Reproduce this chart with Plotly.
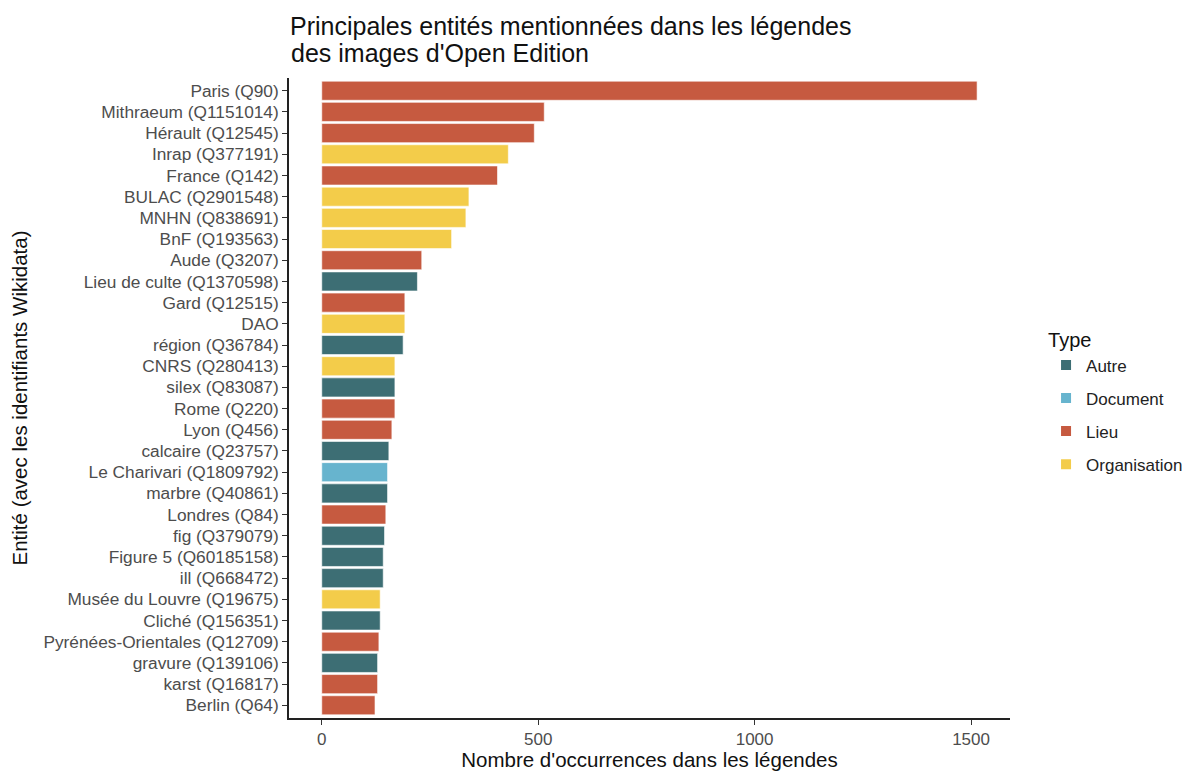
import plotly.graph_objects as go

entities = [
    "Paris (Q90)", "Mithraeum (Q1151014)", "Hérault (Q12545)", "Inrap (Q377191)",
    "France (Q142)", "BULAC (Q2901548)", "MNHN (Q838691)", "BnF (Q193563)",
    "Aude (Q3207)", "Lieu de culte (Q1370598)", "Gard (Q12515)", "DAO",
    "région (Q36784)", "CNRS (Q280413)", "silex (Q83087)", "Rome (Q220)",
    "Lyon (Q456)", "calcaire (Q23757)", "Le Charivari (Q1809792)", "marbre (Q40861)",
    "Londres (Q84)", "fig (Q379079)", "Figure 5 (Q60185158)", "ill (Q668472)",
    "Musée du Louvre (Q19675)", "Cliché (Q156351)", "Pyrénées-Orientales (Q12709)",
    "gravure (Q139106)", "karst (Q16817)", "Berlin (Q64)",
]
counts = [
    1514, 514, 491, 431,
    406, 340, 333, 300,
    231, 221, 192, 192,
    188, 169, 169, 169,
    162, 155, 152, 152,
    148, 145, 142, 142,
    135, 135, 132,
    129, 129, 123,
]
types = [
    "Lieu", "Lieu", "Lieu", "Organisation",
    "Lieu", "Organisation", "Organisation", "Organisation",
    "Lieu", "Autre", "Lieu", "Organisation",
    "Autre", "Organisation", "Autre", "Lieu",
    "Lieu", "Autre", "Document", "Autre",
    "Lieu", "Autre", "Autre", "Autre",
    "Organisation", "Autre", "Lieu",
    "Autre", "Lieu", "Lieu",
]
type_order = ["Autre", "Document", "Lieu", "Organisation"]
type_colors = {"Autre": "#3D6E74", "Document": "#67B4CE", "Lieu": "#C65A40", "Organisation": "#F3CC4A"}
title_lines = ["Principales entités mentionnées dans les légendes", "des images d'Open Edition"]

FONT = "Liberation Sans, Arial, sans-serif"
W, H = 1187, 771
L, R, T, B = 289, 177, 78, 53
PH = H - T - B

fig = go.Figure()
for t in type_order:
    xs = [c for c, ty in zip(counts, types) if ty == t]
    ys = [e for e, ty in zip(entities, types) if ty == t]
    fig.add_trace(go.Bar(
        x=xs, y=ys, orientation="h", name=t, width=0.9, legendgroup=t,
        marker=dict(color=type_colors[t], line=dict(color="white", width=0.6)),
    ))

cat_order = entities[::-1]
fig.update_layout(
    width=W, height=H,
    paper_bgcolor="white", plot_bgcolor="white",
    margin=dict(l=L, r=R, t=T, b=B, autoexpand=False),
    barmode="relative",
    font=dict(family=FONT, color="#222222"),
    title=dict(
        text=title_lines[0],
        x=290 / W, xanchor="left", xref="container",
        y=1 - 26 / H, yanchor="middle", yref="container",
        font=dict(size=25, color="#111111", family=FONT),
        automargin=False,
    ),
    legend=dict(
        title=dict(text="Type", font=dict(size=20, color="#111111")),
        x=1.05, xanchor="left", y=0.494, yanchor="middle",
        font=dict(size=17, color="#222222"),
        traceorder="grouped", itemsizing="constant",
        tracegroupgap=8,
    ),
    bargap=0.1,
)
fig.add_annotation(
    text=title_lines[1], xref="paper", yref="paper",
    x=0, xanchor="left", y=(H - B - 52.5) / PH, yanchor="middle",
    showarrow=False, font=dict(size=25, color="#111111", family=FONT),
)
fig.update_xaxes(
    range=[-75.7, 1590], tickvals=[0, 500, 1000, 1500],
    showgrid=False, zeroline=False, automargin=True,
    showline=True, linecolor="#222222", linewidth=1.6,
    ticks="outside", ticklen=5, tickcolor="#333333", tickwidth=1.2,
    tickfont=dict(size=17, color="#4D4D4D"),
    title=dict(text="Nombre d'occurrences dans les légendes", font=dict(size=20.5, color="#111111"), standoff=13),
)
fig.update_yaxes(
    type="category", categoryorder="array", categoryarray=cat_order,
    range=[-0.6, 29.6],
    showgrid=False, zeroline=False, automargin=True,
    showline=True, linecolor="#222222", linewidth=1.6,
    ticks="outside", ticklen=5, tickcolor="#333333", tickwidth=1.2,
    tickfont=dict(size=17.3, color="#4D4D4D"),
    title=dict(text="Entité (avec les identifiants Wikidata)", font=dict(size=20.5, color="#111111"), standoff=10),
)

fig.write_html(
    "out.html",
    config={"displayModeBar": False},
    post_script="document.body.style.margin='0';document.body.style.overflow='hidden';",
)
